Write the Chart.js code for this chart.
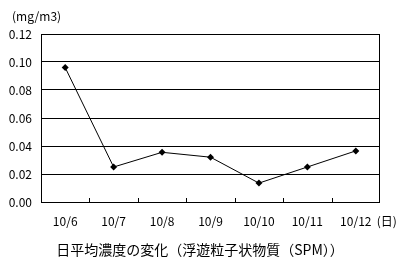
<!DOCTYPE html>
<html>
<head>
<meta charset="utf-8">
<script src="https://cdn.jsdelivr.net/npm/chart.js@4"></script>
<style>
  html, body { margin: 0; padding: 0; background: #fff; }
  #wrap { width: 404px; height: 266px; }
</style>
</head>
<body>
<div id="wrap"><canvas id="spm-chart" width="404" height="266"></canvas></div>
<script>
const dates = ['10/6', '10/7', '10/8', '10/9', '10/10', '10/11', '10/12'];
const spmValues = [0.096, 0.025, 0.0355, 0.032, 0.0135, 0.025, 0.0365];
const yTicks = [0, 0.02, 0.04, 0.06, 0.08, 0.10, 0.12];

const unitLabel = '(mg/m3)';
const dayLabel = '(日)';
const chartTitle = '日平均濃度の変化（浮遊粒子状物質（SPM））';

const FONT = '"Noto Sans CJK JP", "DejaVu Sans", sans-serif';

// frame, short ticks between categories and the extra texts
const extrasPlugin = {
    id: 'extras',
    afterDraw(chart) {
        const ctx = chart.ctx;
        const area = chart.chartArea;
        const x = chart.scales.x;
        ctx.save();
        ctx.strokeStyle = '#000';
        ctx.lineWidth = 1;
        ctx.strokeRect(Math.round(area.left) + 0.5, Math.round(area.top) + 0.5,
            Math.round(area.right - area.left) - 1, Math.round(area.bottom - area.top));

        ctx.beginPath();
        for (let i = 1; i < dates.length; i++) {
            const px = Math.round((x.getPixelForValue(i - 1) + x.getPixelForValue(i)) / 2) + 0.5;
            ctx.moveTo(px, area.bottom - 4);
            ctx.lineTo(px, area.bottom);
        }
        ctx.stroke();

        ctx.fillStyle = '#000';
        ctx.font = '12px ' + FONT;
        ctx.textBaseline = 'middle';
        ctx.textAlign = 'left';
        ctx.fillText(unitLabel, 12, 16);
        ctx.fillText(dayLabel, x.getPixelForValue(dates.length - 1) + 21, 221);

        ctx.font = '14px ' + FONT;
        ctx.textAlign = 'center';
        ctx.fillText(chartTitle, 200, 250);
        ctx.restore();
    }
};

const ctx = document.getElementById('spm-chart').getContext('2d');
new Chart(ctx, {
    type: 'line',
    data: {
        labels: dates,
        datasets: [{
            data: spmValues,
            borderColor: '#000',
            borderWidth: 1,
            backgroundColor: '#000',
            pointStyle: 'rectRot',
            pointRadius: 3.5,
            pointBorderWidth: 0,
            tension: 0,
        }],
    },
    options: {
        responsive: false,
        animation: false,
        devicePixelRatio: 1,
        layout: { padding: { top: 34, right: 24, left: 0, bottom: 0 } },
        plugins: {
            legend: { display: false },
            tooltip: { enabled: false },
        },
        scales: {
            x: {
                offset: true,
                grid: { display: false, offset: true },
                border: { display: false },
                ticks: {
                    color: '#000',
                    font: { family: FONT, size: 12 },
                    padding: 4,
                    maxRotation: 0,
                    autoSkip: false,
                },
                afterFit(scale) { scale.height = 64; },
            },
            y: {
                min: 0,
                max: 0.12,
                afterBuildTicks(scale) {
                    scale.ticks = yTicks.map(v => ({ value: v }));
                },
                grid: { color: '#000', lineWidth: 1, drawTicks: false },
                border: { display: false },
                ticks: {
                    color: '#000',
                    font: { family: FONT, size: 12 },
                    padding: 9,
                    callback: v => Number(v).toFixed(2),
                },
                afterFit(scale) { scale.width = 41; },
            },
        },
    },
    plugins: [extrasPlugin],
});
</script>
</body>
</html>
